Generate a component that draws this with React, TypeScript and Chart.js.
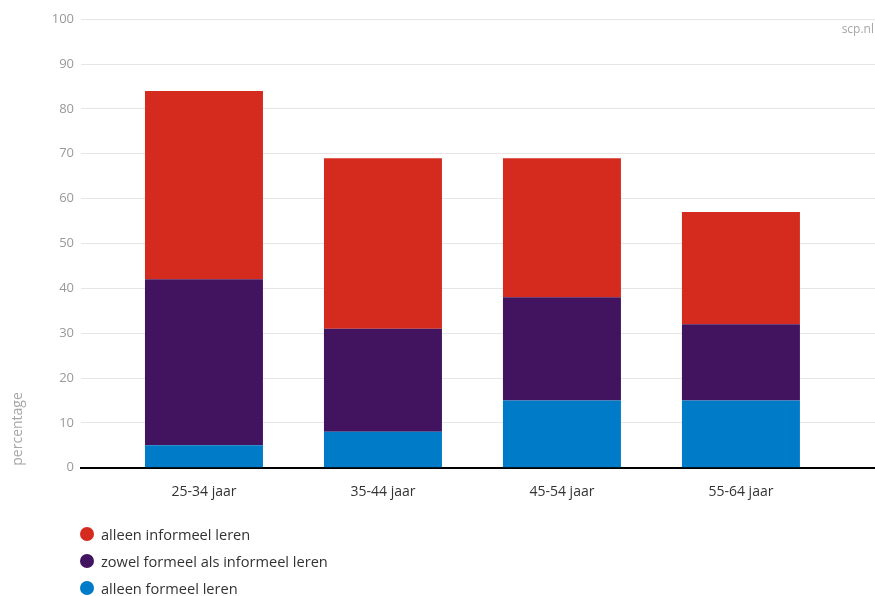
import React, { useEffect, useRef } from "react";
import { Chart, registerables } from "chart.js";

Chart.register(...registerables);

const categories = ["25-34 jaar", "35-44 jaar", "45-54 jaar", "55-64 jaar"];
const alleenFormeel = [5, 8, 15, 15];
const zowelFormeelInformeel = [37, 23, 23, 17];
const alleenInformeel = [42, 38, 31, 25];
const yTicks = [0, 10, 20, 30, 40, 50, 60, 70, 80, 90, 100];

const seriesNames = {
  informeel: "alleen informeel leren",
  zowel: "zowel formeel als informeel leren",
  formeel: "alleen formeel leren",
};
const colors = {
  informeel: "#d52b1e",
  zowel: "#42145f",
  formeel: "#007bc7",
};

const FONT = "'Open Sans', 'DejaVu Sans', sans-serif";

const extrasPlugin = {
  id: "extras",
  afterDraw(chart: any) {
    const ctx = chart.ctx;
    const area = chart.chartArea;
    ctx.save();
    ctx.fillStyle = "#a6a6a6";
    ctx.font = `12px ${FONT}`;
    ctx.textAlign = "right";
    ctx.textBaseline = "middle";
    ctx.fillText("scp.nl", chart.width - 1, 30);
    ctx.translate(18, area.bottom - 2);
    ctx.rotate(-Math.PI / 2);
    ctx.textAlign = "left";
    ctx.textBaseline = "middle";
    ctx.font = `14px ${FONT}`;
    ctx.fillStyle = "#a6a6a6";
    ctx.fillText("percentage", 0, 0);
    ctx.restore();
  },
};

export default function App() {
  const ref = useRef<HTMLCanvasElement | null>(null);

  useEffect(() => {
    if (!ref.current) return;
    const toPts = (arr: number[]) => arr.map((v, i) => ({ x: i, y: v }));
    const chart = new Chart(ref.current, {
      type: "bar",
      data: {
        datasets: [
          {
            label: seriesNames.formeel,
            data: toPts(alleenFormeel),
            backgroundColor: colors.formeel,
          },
          {
            label: seriesNames.zowel,
            data: toPts(zowelFormeelInformeel),
            backgroundColor: colors.zowel,
          },
          {
            label: seriesNames.informeel,
            data: toPts(alleenInformeel),
            backgroundColor: colors.informeel,
          },
        ],
      },
      options: {
        responsive: false,
        animation: false,
        devicePixelRatio: 1,
        layout: { padding: { top: 19.2, right: 0, bottom: 87.5, left: 0 } },
        datasets: {
          bar: { categoryPercentage: 1, barPercentage: 118 / 179 },
        },
        plugins: {
          legend: { display: false },
          tooltip: { enabled: false },
          title: { display: false },
        },
        scales: {
          x: {
            type: "linear",
            stacked: true,
            offset: false,
            min: -0.687,
            max: 3.749,
            grid: { display: false, offset: false },
            border: { display: true, color: "#000000", width: 2 },
            ticks: {
              stepSize: 1,
              includeBounds: false,
              autoSkip: false,
              maxRotation: 0,
              padding: 8,
              color: "#333333",
              font: { family: FONT, size: 14 },
              callback: (v: any) =>
                Number.isInteger(v) && categories[v] !== undefined ? categories[v] : "",
            },
          },
          y: {
            stacked: true,
            min: 0,
            max: 100,
            afterFit: (s: any) => {
              s.width = 81;
            },
            afterBuildTicks: (s: any) => {
              s.ticks = yTicks.map((v) => ({ value: v }));
            },
            grid: { color: "#e6e6e6", lineWidth: 1, drawTicks: false },
            border: { display: false },
            ticks: {
              padding: 7,
              color: "#999999",
              font: { family: FONT, size: 13 },
            },
          },
        },
      },
      plugins: [extrasPlugin],
    });
    return () => chart.destroy();
  }, []);

  const legendItems = [
    { name: seriesNames.informeel, color: colors.informeel },
    { name: seriesNames.zowel, color: colors.zowel },
    { name: seriesNames.formeel, color: colors.formeel },
  ];

  return (
    <div style={{ position: "fixed", left: 0, top: 0, width: 875, height: 596, background: "#fff" }}>
      <canvas ref={ref} width={875} height={596} style={{ display: "block" }} />
      <div style={{ position: "absolute", left: 80, top: 520, fontFamily: FONT, fontSize: 14.6, color: "#333" }}>
        {legendItems.map((it) => (
          <div key={it.name} style={{ display: "flex", alignItems: "center", height: 27 }}>
            <span
              style={{
                display: "inline-block",
                width: 14,
                height: 14,
                borderRadius: 7,
                background: it.color,
                marginRight: 7,
              }}
            />
            <span>{it.name}</span>
          </div>
        ))}
      </div>
    </div>
  );
}
